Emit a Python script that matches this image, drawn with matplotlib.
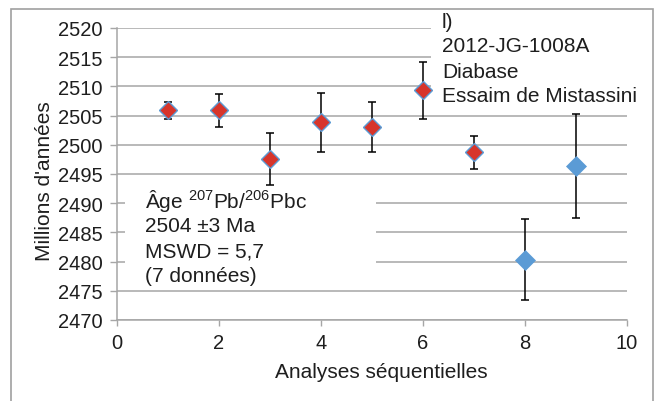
import matplotlib
matplotlib.use("Agg")
import matplotlib.pyplot as plt
from matplotlib.patches import Rectangle

plt.rcParams['font.family'] = ['Liberation Sans', 'DejaVu Sans']
plt.rcParams['mathtext.fontset'] = 'custom'
plt.rcParams['mathtext.rm'] = 'Liberation Sans'

# data
analyses = [1, 2, 3, 4, 5, 6, 7, 8, 9]
ages = [2505.9, 2505.9, 2497.6, 2503.85, 2503.05, 2509.3, 2498.7, 2480.3, 2496.4]
errors = [1.5, 2.8, 4.4, 5.05, 4.3, 4.85, 2.8, 6.95, 8.95]
used = [True, True, True, True, True, True, True, False, False]

x_ticks = [0, 2, 4, 6, 8, 10]
y_ticks = list(range(2470, 2521, 5))

W, H = 657, 402
RED = '#d7352b'
BLUE = '#5b9bd5'
GRID = '#a6a6a6'
TXT = '#1e1e1e'
FS_TICK = 14.5
FS_TEXT = 15


def fx(px):
    return px / W


def fy(py):
    return 1 - py / H


fig = plt.figure(figsize=(W / 100, H / 100), dpi=100)
ax = fig.add_axes([fx(116.7), fy(321), fx(626.7) - fx(116.7), fy(29) - fy(321)])

# outer chart frame
fig.patches.append(Rectangle((fx(11), fy(420)), fx(653) - fx(11), fy(10) - fy(420),
                             transform=fig.transFigure, fill=False,
                             edgecolor='#a0a0a0', lw=1.2))

ax.set_xlim(0, 10)
ax.set_ylim(2470, 2520)
ax.set_xticks(x_ticks)
ax.set_yticks(y_ticks)
ax.set_axisbelow(True)
ax.yaxis.grid(True, color=GRID, lw=1.1)

for s in ['top', 'right']:
    ax.spines[s].set_visible(False)
for s in ['left', 'bottom']:
    ax.spines[s].set_color(GRID)
    ax.spines[s].set_linewidth(1.1)
ax.tick_params(axis='y', length=5, width=1, color=GRID, labelsize=FS_TICK, labelcolor=TXT, pad=5)
ax.tick_params(axis='x', length=4.5, width=1, color=GRID, labelsize=FS_TICK, labelcolor=TXT, pad=5)

# white boxes behind the texts hide the gridlines there
ax.add_patch(Rectangle((6.17, 2506.5), 4.2, 16, facecolor='white', edgecolor='none',
                       zorder=1.5, clip_on=False))
ax.add_patch(Rectangle((0.16, 2477.5), 4.93, 16.3, facecolor='white', edgecolor='none',
                       zorder=1.5))

for xi, yi, ei, ok in zip(analyses, ages, errors, used):
    ax.errorbar(xi, yi, yerr=ei, fmt='none', ecolor='black', elinewidth=1.1,
                capsize=3, capthick=1.1, zorder=3)
    if ok:
        ax.plot(xi, yi, marker='D', ms=9.5, mfc=RED, mec=BLUE, mew=1.0, zorder=4)
    else:
        ax.plot(xi, yi, marker='D', ms=10.5, mfc=BLUE, mec=BLUE, mew=0.5, zorder=4)

ax.set_xlabel('Analyses séquentielles', fontsize=FS_TEXT, color=TXT)
ax.xaxis.set_label_coords((381 - 116.7) / 510, (321 - 373) / 292)
ax.xaxis.label.set_va('center')
ax.set_ylabel("Millions d'années", fontsize=FS_TEXT, color=TXT)
ax.yaxis.set_label_coords((45 - 116.7) / 510, (321 - 181) / 292)
ax.yaxis.label.set_va('center')

top_lines = ['l)', '2012-JG-1008A', 'Diabase', 'Essaim de Mistassini']
for i, t in enumerate(top_lines):
    fig.text(fx(442), fy(22 + 25 * i), t, fontsize=FS_TEXT, color=TXT, va='center', ha='left')

age_lines = [r'Âge $\mathregular{^{207}}$Pb/$\mathregular{^{206}}$Pbc', '2504 ±3 Ma',
             'MSWD = 5,7', '(7 données)']
for i, t in enumerate(age_lines):
    fig.text(fx(145), fy(201 + 25.3 * i), t, fontsize=FS_TEXT, color=TXT, va='center', ha='left')

fig.savefig('out.png', dpi=100)
